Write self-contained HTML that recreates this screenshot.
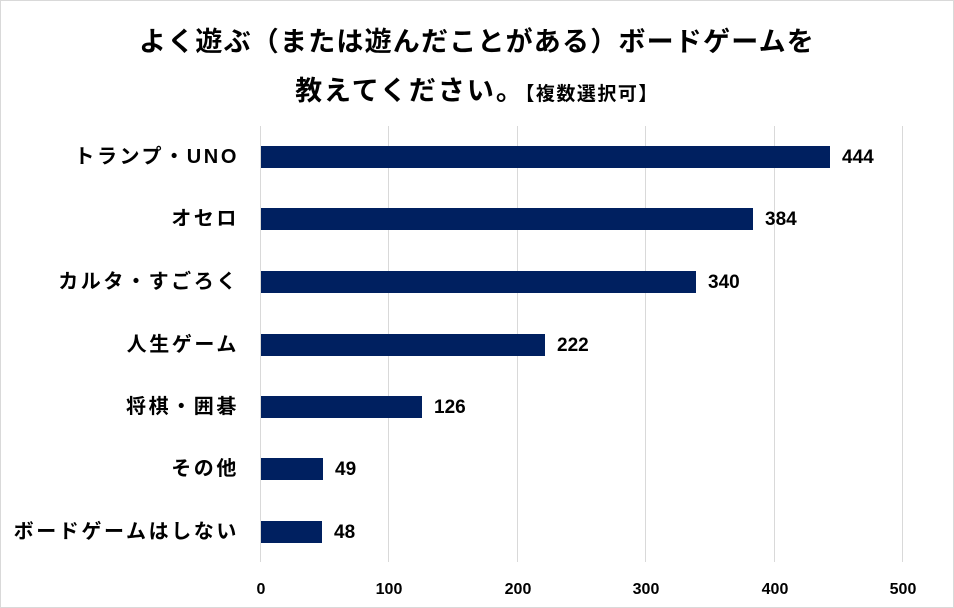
<!DOCTYPE html>
<html><head><meta charset="utf-8"><style>
body{margin:0;background:#fff;}
#c{position:relative;width:952px;height:606px;border:1px solid #d9d9d9;background:#fff;font-family:"Liberation Sans","Noto Sans CJK JP",sans-serif;font-weight:bold;color:#000;overflow:hidden}
.t{position:absolute;left:0;width:952px;text-align:center;font-size:27px;line-height:32px;letter-spacing:1.2px}
.g{position:absolute;top:125px;height:436px;width:1px;background:#d9d9d9}
.b{position:absolute;left:260px;height:22px;background:#002060}
.l{position:absolute;right:714px;font-size:20px;line-height:22px;white-space:nowrap;letter-spacing:2.6px}
.v{position:absolute;font-size:19px;line-height:22px}
.x{position:absolute;top:580px;font-size:16px;width:60px;margin-left:-30px;text-align:center}
</style></head><body><div id="c">
<div class="t" style="top:25px">よく遊ぶ（または遊んだことがある）ボードゲームを</div>
<div class="t" style="top:74px;letter-spacing:2px">教えてください。<span style="font-size:19px;letter-spacing:1.5px">【複数選択可】</span></div>
<div class="g" style="left:259px"></div><div class="g" style="left:387px"></div><div class="g" style="left:516px"></div><div class="g" style="left:644px"></div><div class="g" style="left:773px"></div><div class="g" style="left:901px"></div>
<div class="b" style="top:145px;width:569px"></div><div class="l" style="top:145px">トランプ・UNO</div><div class="v" style="top:146px;left:841px">444</div>
<div class="b" style="top:207px;width:492px"></div><div class="l" style="top:207px">オセロ</div><div class="v" style="top:208px;left:764px">384</div>
<div class="b" style="top:270px;width:435px"></div><div class="l" style="top:270px">カルタ・すごろく</div><div class="v" style="top:271px;left:707px">340</div>
<div class="b" style="top:333px;width:284px"></div><div class="l" style="top:333px">人生ゲーム</div><div class="v" style="top:334px;left:556px">222</div>
<div class="b" style="top:395px;width:161px"></div><div class="l" style="top:395px">将棋・囲碁</div><div class="v" style="top:396px;left:433px">126</div>
<div class="b" style="top:457px;width:62px"></div><div class="l" style="top:457px">その他</div><div class="v" style="top:458px;left:334px">49</div>
<div class="b" style="top:520px;width:61px"></div><div class="l" style="top:520px">ボードゲームはしない</div><div class="v" style="top:521px;left:333px">48</div>
<div class="x" style="left:260px">0</div><div class="x" style="left:388px">100</div><div class="x" style="left:517px">200</div><div class="x" style="left:645px">300</div><div class="x" style="left:774px">400</div><div class="x" style="left:902px">500</div>
</div></body></html>
